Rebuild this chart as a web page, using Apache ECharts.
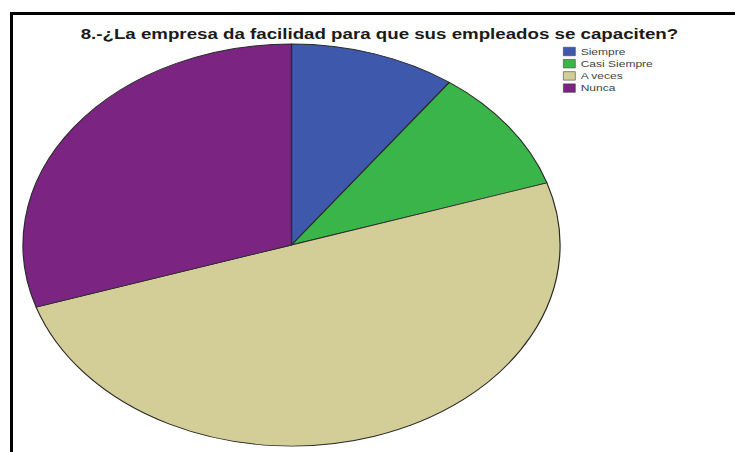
<!DOCTYPE html>
<html>
<head>
<meta charset="utf-8">
<script src="https://cdn.jsdelivr.net/npm/echarts@6/dist/echarts.min.js"></script>
<style>
  html, body { margin: 0; padding: 0; background: #fff; overflow: hidden; }
  #frame {
    position: absolute; left: 10px; top: 12px; width: 760px; height: 480px;
    border-left: 3px solid #000; border-top: 3px solid #000; box-sizing: border-box;
  }
  /* The chart is drawn in a narrower box and widened, so the pie becomes an oval */
  #chart {
    position: absolute; left: 0; top: 0; width: 550px; height: 452px;
    transform: scaleX(1.336); transform-origin: 0 0;
  }
</style>
</head>
<body>
<div id="frame"></div>
<div id="chart"></div>
<script>
const titleText = '8.-¿La empresa da facilidad para que sus empleados se capaciten?';
const categories = ['Siempre', 'Casi Siempre', 'A veces', 'Nunca'];
const values = [10, 10, 50, 30];
const sliceColors = ['#3E58AC', '#3AB54A', '#D3CE97', '#7B2481'];

const chart = echarts.init(document.getElementById('chart'), null, { renderer: 'svg' });

chart.setOption({
  animation: false,
  backgroundColor: 'transparent',
  color: sliceColors,
  title: {
    text: titleText,
    left: 284,
    top: 27,
    textAlign: 'center',
    padding: 0,
    textStyle: {
      fontFamily: 'Liberation Sans, Arial, sans-serif',
      fontWeight: 'bold',
      fontSize: 14,
      color: '#1a1a1a'
    }
  },
  legend: {
    orient: 'vertical',
    left: 421.4,
    top: 47,
    padding: 0,
    itemWidth: 9,
    itemHeight: 8.5,
    itemGap: 3.2,
    icon: 'rect',
    selectedMode: false,
    data: categories,
    textStyle: {
      fontFamily: 'Liberation Sans, Arial, sans-serif',
      fontSize: 9,
      lineHeight: 8.5,
      color: '#444',
      padding: [0, 0, 0, -1]
    },
    itemStyle: { borderColor: '#444', borderWidth: 0.5 }
  },
  series: [{
    type: 'pie',
    center: [218.2, 245],
    radius: 201,
    startAngle: 90,
    clockwise: true,
    silent: true,
    label: { show: false },
    labelLine: { show: false },
    itemStyle: { borderColor: '#2a2a2a', borderWidth: 0.9 },
    data: categories.map((name, i) => ({ name: name, value: values[i] }))
  }]
});
</script>
</body>
</html>
